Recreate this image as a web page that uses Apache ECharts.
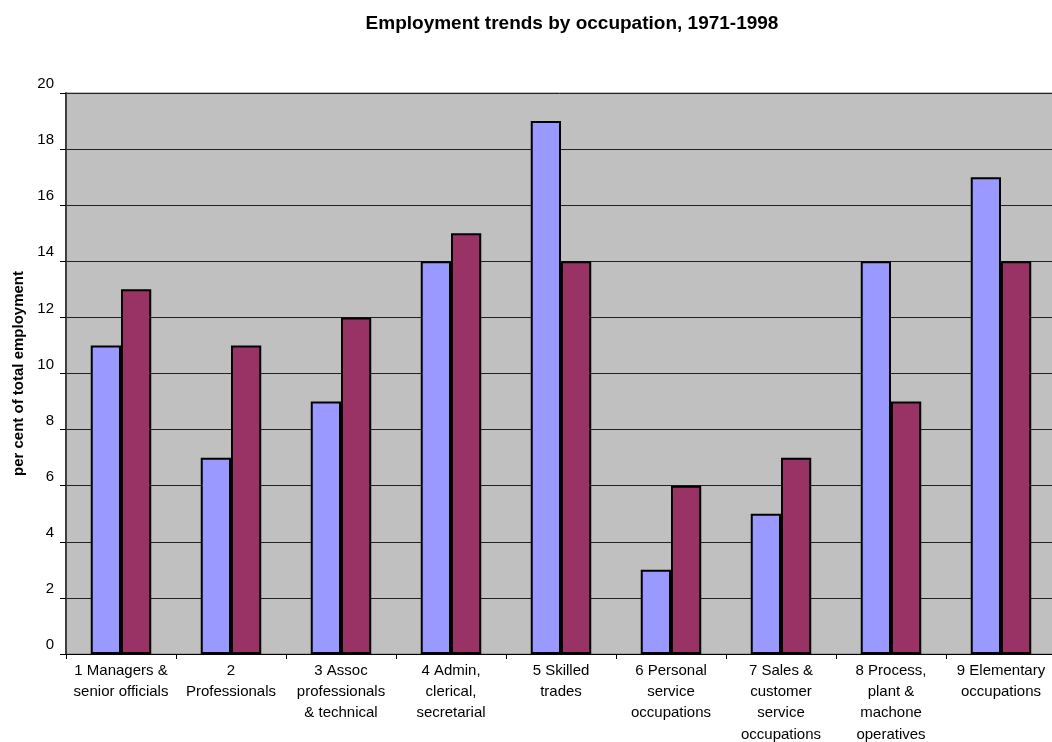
<!DOCTYPE html>
<html>
<head>
<meta charset="utf-8">
<script src="https://cdn.jsdelivr.net/npm/echarts@6/dist/echarts.min.js"></script>
<style>
  html, body { margin: 0; padding: 0; background: #fff; }
  #chart { width: 1052px; height: 742px; }
</style>
</head>
<body>
<div id="chart"></div>
<script>
// Occupation groups (x axis)
const categories = [
  '1 Managers &\nsenior officials',
  '2\nProfessionals',
  '3 Assoc\nprofessionals\n& technical',
  '4 Admin,\nclerical,\nsecretarial',
  '5 Skilled\ntrades',
  '6 Personal\nservice\noccupations',
  '7 Sales &\ncustomer\nservice\noccupations',
  '8 Process,\nplant &\nmachone\noperatives',
  '9 Elementary\noccupations'
];
// Share of total employment, per cent
const values1971 = [11, 7, 9, 14, 19, 3, 5, 14, 17];
const values1998 = [13, 11, 12, 15, 14, 6, 7, 9, 14];

const chart = echarts.init(document.getElementById('chart'));
const font = 'Liberation Sans, Arial, sans-serif';

chart.setOption({
  animation: false,
  backgroundColor: '#ffffff',
  title: {
    text: 'Employment trends by occupation, 1971-1998',
    left: 567, textAlign: 'center', top: 9,
    textStyle: { fontFamily: font, fontSize: 19, fontWeight: 'bold', color: '#000' }
  },
  grid: {
    left: 66, top: 93, width: 990, height: 561,
    show: true, backgroundColor: '#C0C0C0', borderColor: '#808080', borderWidth: 1,
    containLabel: false, outerBoundsMode: 'none'
  },
  xAxis: {
    type: 'category',
    data: categories,
    axisLine: { lineStyle: { color: '#000', width: 1 } },
    axisTick: { show: true, length: 5, lineStyle: { color: '#000' } },
    axisLabel: {
      interval: 0, color: '#000', fontFamily: font, fontSize: 15,
      lineHeight: 21.3, margin: 6
    }
  },
  yAxis: {
    type: 'value', min: 0, max: 20, interval: 2,
    name: 'per cent of total employment',
    nameLocation: 'middle', nameGap: 40, nameRotate: 90,
    nameTextStyle: { fontFamily: font, fontSize: 15, fontWeight: 'bold', color: '#000' },
    axisLine: { show: true, lineStyle: { color: '#404040', width: 2 } },
    axisTick: { show: true, length: 6, lineStyle: { color: '#000' } },
    axisLabel: {
      color: '#000', fontFamily: font, fontSize: 15, margin: 12,
      verticalAlign: 'bottom', lineHeight: 18
    },
    splitLine: { show: true, lineStyle: { color: '#222', width: 1 } }
  },
  series: [
    {
      name: '1971', type: 'bar', data: values1971,
      barGap: '0%', barCategoryGap: '45%',
      itemStyle: { color: '#9999FF', borderColor: '#000', borderWidth: 2 }
    },
    {
      name: '1998', type: 'bar', data: values1998,
      itemStyle: { color: '#993366', borderColor: '#000', borderWidth: 2 }
    }
  ]
});
</script>
</body>
</html>
